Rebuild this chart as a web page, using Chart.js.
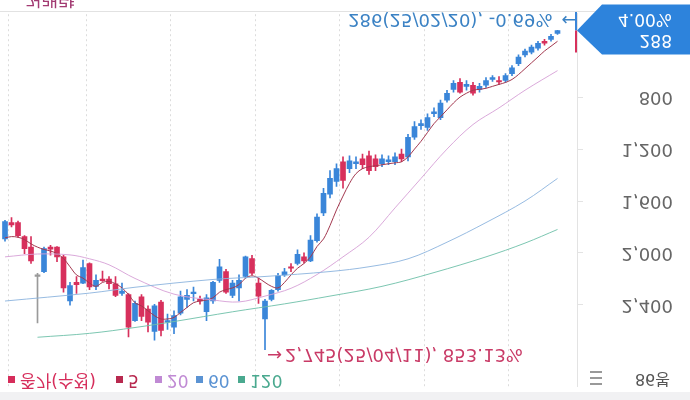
<!DOCTYPE html>
<html>
<head>
<meta charset="utf-8">
<script src="https://cdn.jsdelivr.net/npm/chart.js@4.4.1/dist/chart.umd.min.js"></script>
<style>
  html, body { margin: 0; padding: 0; background: #fff; overflow: hidden; }
  /* the reference picture is shown upside down (vertically mirrored) */
  #wrap { width: 690px; height: 400px; transform: scaleY(-1); }
  canvas { display: block; }
</style>
</head>
<body>
<div id="wrap"><canvas id="priceChart" width="690" height="400"></canvas></div>
<script>
// daily candles, oldest first (86봉)
const opens  = [1892,1766,1766,1874,1955,2169,2144,1955,1955,2030,2370,2227,2232,2081,2257,2201,2201,2237,2312,2320,
                2521,2337,2433,2604,2378,2533,2571,2463,2357,2312,2357,2453,2370,2211,2144,2327,2269,2181,2043,2232,
                2508,2357,2282,2169,2106,2081,2030,2061,1905,1691,1547,1449,1298,1351,1313,1275,1253,1275,1313,1298,
                1298,1238,1260,1109,1019,1034,928,958,823,740,687,717,709,740,709,664,672,672,619,543,
                475,453,423,370,355,309];
const closes = [1759,1784,1867,1967,2061,2169,1967,1970,2030,2269,2252,2244,2113,2262,2211,2211,2237,2327,2294,2571,
                2388,2488,2533,2408,2596,2521,2483,2337,2327,2302,2370,2345,2227,2106,2302,2232,2211,2030,2156,2332,
                2370,2287,2176,2146,2118,2010,2061,1900,1723,1540,1426,1351,1441,1291,1298,1321,1366,1336,1275,1283,
                1260,1275,1109,1026,1004,958,913,845,770,694,762,702,770,717,672,649,679,634,574,491,
                445,415,385,385,332,288];
const lows   = [1749,1728,1754,1867,1874,2156,1955,1942,1950,2018,2227,2181,2055,2076,2169,2139,2181,2181,2232,2312,
                2370,2320,2408,2395,2365,2471,2445,2294,2282,2262,2332,2320,2219,2050,2126,2211,2169,2025,2018,2194,
                2357,2282,2156,2118,2081,1975,2000,1867,1698,1502,1366,1313,1260,1253,1260,1238,1215,1245,1245,1253,
                1230,1200,1087,989,974,928,883,823,747,672,657,672,687,694,649,634,642,619,558,475,
                430,400,370,355,317,286];
const highs  = [1910,1799,1879,2005,2081,2539,2151,2018,2068,2302,2403,2312,2237,2282,2282,2219,2277,2337,2327,2647,
                2528,2521,2609,2672,2639,2589,2622,2478,2420,2370,2395,2521,2388,2227,2312,2345,2370,2194,2169,2388,
                2745,2370,2294,2181,2144,2093,2076,2068,1917,1713,1577,1487,1502,1381,1351,1351,1396,1366,1336,1321,
                1321,1298,1291,1125,1049,1057,951,974,838,762,770,747,785,762,725,679,702,687,634,558,
                491,468,438,400,370,317];

// moving averages
const ma5 = [1884,1874,1879,1897,1930,1955,1973,1985,2005,2043,2106,2169,2194,2232,2257,2227,2219,2237,2269,2320,
             2383,2408,2445,2483,2508,2508,2496,2458,2420,2383,2370,2362,2345,2302,2282,2269,2244,2194,2176,2194,
             2227,2257,2269,2227,2169,2118,2081,2030,1950,1892,1789,1668,1562,1464,1389,1351,1336,1328,1321,1313,
             1306,1298,1260,1200,1140,1072,1004,951,898,845,800,770,747,740,732,717,702,687,664,626,
             581,536,491,445,408,370];
const ma20Idx = [0,5,10,13,16,20,26,32,36,40,44,48,52,56,60,64,68,72,76,80,85];
const ma20Val = [2030,2008,2015,2045,2091,2196,2317,2362,2377,2332,2272,2166,2030,1879,1653,1426,1200,1011,883,747,596];
const ma60Idx = [0,13,20,32,40,50,56,62,68,74,80,85];
const ma60Val = [2370,2309,2264,2204,2181,2143,2106,2045,1917,1766,1600,1426];
const ma120Idx = [5,13,20,26,35,43,50,58,66,74,80,85];
const ma120Val = [2649,2619,2574,2528,2453,2392,2332,2257,2151,2030,1924,1819];

const yTicks = [800, 1200, 1600, 2000, 2400];
const gridIdx = [0.5, 12.5, 25.5, 38.5, 51.5, 64.5, 77.5];

const maxDate = "25/04/11";
const minDate = "25/02/20";
const dayChange = "4.00%";
const candleCount = "86봉";

const legendItems = [
  { text: "종가(수정)", color: "#d62d5b" },
  { text: "5", color: "#b8294f" },
  { text: "20", color: "#c08ad4" },
  { text: "60", color: "#5b93d3" },
  { text: "120", color: "#4aa98f" },
];

const UP = "#d7305c";
const DOWN = "#3a86d9";
const FLAT = "#9a9a9a";
const FONT = "'DejaVu Sans', 'Noto Sans CJK KR', sans-serif";

const candleColor = opens.map((o, i) => closes[i] > o ? UP : (closes[i] < o ? DOWN : FLAT));
const fmt = (v) => v.toLocaleString("en-US");

const overlay = {
  id: "overlay",
  beforeDraw(chart) {
    const ctx = chart.ctx;
    ctx.save();
    ctx.fillStyle = "#ffffff";
    ctx.fillRect(0, 0, chart.width, chart.height);
    ctx.fillStyle = "#f1f1f3";
    ctx.fillRect(0, 0, chart.width, 8);
    ctx.restore();
  },
  afterDraw(chart) {
    const { ctx, scales: { x, y } } = chart;
    ctx.save();

    // bottom axis line across the whole width
    ctx.strokeStyle = "#e2e2e2";
    ctx.lineWidth = 1;
    ctx.beginPath();
    ctx.moveTo(0, 388.5);
    ctx.lineTo(chart.width, 388.5);
    ctx.stroke();

    // legend
    const lx = [8, 116, 155, 196, 238];
    ctx.textBaseline = "middle";
    ctx.font = "17px " + FONT;
    legendItems.forEach((it, k) => {
      ctx.fillStyle = it.color;
      ctx.fillRect(lx[k], 17, 7, 7);
      ctx.fillText(it.text, lx[k] + 12, 21);
    });

    // menu icon and candle count
    ctx.strokeStyle = "#777";
    ctx.lineWidth = 1.5;
    [16, 22, 28].forEach((yy) => {
      ctx.beginPath();
      ctx.moveTo(590, yy);
      ctx.lineTo(602, yy);
      ctx.stroke();
    });
    ctx.fillStyle = "#555";
    ctx.textAlign = "right";
    ctx.font = "16px " + FONT;
    ctx.fillText(candleCount, 670, 22);

    // highest price marker
    const last = closes[closes.length - 1];
    const hi = Math.max(...highs);
    const hiI = highs.indexOf(hi);
    let cx = x.getPixelForValue(hiI);
    let cy = y.getPixelForValue(hi);
    ctx.font = "18px " + FONT;
    ctx.fillStyle = "#c93a66";
    ctx.textAlign = "left";
    ctx.fillText("→", cx + 2, cy - 4);
    ctx.fillText(fmt(hi) + "(" + maxDate + "), " + ((hi / last - 1) * 100).toFixed(2) + "%", cx + 20, cy - 4);

    // lowest price marker
    const lo = Math.min(...lows);
    const loI = lows.indexOf(lo);
    cx = x.getPixelForValue(loI);
    cy = y.getPixelForValue(lo);
    ctx.fillStyle = "#3b82c4";
    ctx.textAlign = "right";
    ctx.fillText(fmt(lo) + "(" + minDate + "), " + ((lo / last - 1) * 100).toFixed(2) + "%", cx - 5, cy + 12);
    ctx.textAlign = "left";
    ctx.fillText("←", cx + 4, cy + 12);

    // current price tag on the axis
    const ty = y.getPixelForValue(last);
    const ax = chart.chartArea.right;
    ctx.fillStyle = "#2d83dc";
    ctx.beginPath();
    ctx.moveTo(ax, ty);
    ctx.lineTo(ax + 25, ty + 26);
    ctx.lineTo(chart.width, ty + 26);
    ctx.lineTo(chart.width, ty - 24);
    ctx.lineTo(ax + 25, ty - 24);
    ctx.closePath();
    ctx.fill();
    ctx.fillStyle = "#ffffff";
    ctx.textAlign = "right";
    ctx.font = "17px " + FONT;
    ctx.fillText(fmt(last), 672, ty - 9);
    ctx.fillText(dayChange, 672, ty + 12);

    // side marks next to the tag
    ctx.lineWidth = 2;
    ctx.strokeStyle = DOWN;
    ctx.beginPath();
    ctx.moveTo(ax - 1, ty);
    ctx.lineTo(ax - 1, 388);
    ctx.stroke();
    ctx.strokeStyle = UP;
    ctx.beginPath();
    ctx.moveTo(ax - 1, ty - 22);
    ctx.lineTo(ax - 1, ty);
    ctx.stroke();

    // lower panel title, cut by the window edge
    ctx.fillStyle = "#a23a72";
    ctx.textAlign = "left";
    ctx.textBaseline = "top";
    ctx.font = "18px " + FONT;
    ctx.fillText("거래량", 25, 393);

    ctx.restore();
  },
};

const pts = (idx, vals) => idx.map((v, k) => ({ x: v, y: vals[k] }));
const maLine = (label, data, color, width) => ({
  type: "line",
  label,
  data,
  borderColor: color,
  borderWidth: width,
  pointRadius: 0,
  tension: 0.35,
  fill: false,
  order: 0,
});

const ctx = document.getElementById("priceChart").getContext("2d");
new Chart(ctx, {
  type: "bar",
  data: {
    datasets: [
      {
        label: "wick",
        data: highs.map((h, i) => ({ x: i, y: [lows[i], h] })),
        backgroundColor: candleColor,
        barThickness: 1,
        grouped: false,
        order: 2,
      },
      {
        label: "body",
        data: opens.map((o, i) => ({ x: i, y: [o, closes[i]] })),
        backgroundColor: candleColor,
        barThickness: 5,
        minBarLength: 1.5,
        grouped: false,
        order: 1,
      },
      maLine("120", pts(ma120Idx, ma120Val), "rgba(110,192,168,0.9)", 1),
      maLine("60", pts(ma60Idx, ma60Val), "rgba(140,180,222,0.9)", 1),
      maLine("20", pts(ma20Idx, ma20Val), "rgba(214,160,214,0.9)", 1),
      maLine("5", ma5.map((v, i) => ({ x: i, y: v })), "#a3384f", 1),
    ],
  },
  options: {
    responsive: false,
    animation: false,
    devicePixelRatio: 1,
    layout: { padding: { top: 8, bottom: 12, left: 0, right: 17 } },
    plugins: {
      legend: { display: false },
      tooltip: { enabled: false },
    },
    scales: {
      x: {
        type: "linear",
        offset: false,
        min: -0.77,
        max: 88,
        afterBuildTicks: (s) => { s.ticks = gridIdx.map((v) => ({ value: v })); },
        afterFit: (s) => { s.height = 0; },
        ticks: { display: false },
        grid: { color: "#dcdcdc", drawTicks: false, offset: false },
        border: { display: false, dash: [2, 3] },
      },
      y: {
        position: "right",
        min: 158.5,
        max: 3026,
        afterBuildTicks: (s) => { s.ticks = yTicks.map((v) => ({ value: v })); },
        afterFit: (s) => { s.width = 96; },
        ticks: {
          crossAlign: "far",
          color: "#666",
          font: { family: FONT, size: 18 },
          callback: (v) => fmt(v),
        },
        grid: { drawOnChartArea: false, color: "#e3e3e3", tickLength: 6 },
        border: { display: true, color: "#e3e3e3" },
      },
    },
  },
  plugins: [overlay],
});
</script>
</body>
</html>
